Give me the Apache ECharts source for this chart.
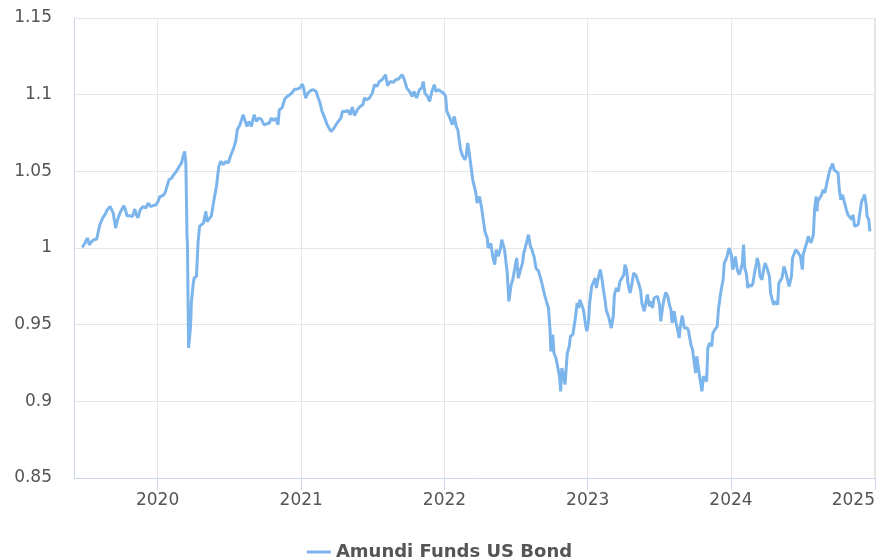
<!DOCTYPE html>
<html>
<head>
<meta charset="utf-8">
<script src="https://cdn.jsdelivr.net/npm/echarts@6/dist/echarts.min.js"></script>
<style>
html,body{margin:0;padding:0;background:#fff;}
#chart{width:879px;height:558px;}
</style>
</head>
<body>
<div id="chart"></div>
<script>
const seriesName = 'Amundi Funds US Bond';
const yTicks = [0.85, 0.9, 0.95, 1, 1.05, 1.1, 1.15];

const dates2019 = ['2019-06-23','2019-06-30','2019-07-06','2019-07-11','2019-07-17','2019-07-23','2019-07-30','2019-08-03','2019-08-07','2019-08-14','2019-08-20','2019-08-26','2019-09-02','2019-09-06','2019-09-10','2019-09-16','2019-09-21','2019-09-27','2019-10-01','2019-10-07','2019-10-11','2019-10-15','2019-10-22','2019-10-29','2019-11-04','2019-11-08','2019-11-12','2019-11-18','2019-11-25','2019-12-02','2019-12-08','2019-12-14','2019-12-21','2019-12-28'];
const values2019 = [1.0004,1.0033,1.0065,1.002,1.0043,1.0054,1.0059,1.0108,1.0152,1.0196,1.0217,1.025,1.0271,1.0276,1.0228,1.013,1.0185,1.0228,1.0239,1.0276,1.025,1.021,1.021,1.0206,1.0254,1.0217,1.0196,1.025,1.0271,1.0261,1.0293,1.0271,1.0276,1.0282];

const dates2020 = ['2020-01-02','2020-01-07','2020-01-14','2020-01-20','2020-01-25','2020-01-30','2020-02-06','2020-02-11','2020-02-18','2020-02-25','2020-03-02','2020-03-06','2020-03-10','2020-03-13','2020-03-16','2020-03-17','2020-03-20','2020-03-25','2020-03-27','2020-03-31','2020-04-03','2020-04-09','2020-04-13','2020-04-17','2020-04-22','2020-04-27','2020-05-03','2020-05-06','2020-05-11','2020-05-17','2020-05-23','2020-05-30','2020-06-05','2020-06-10','2020-06-16','2020-06-23','2020-06-29','2020-07-06','2020-07-12','2020-07-18','2020-07-22','2020-07-29','2020-08-06','2020-08-10','2020-08-16','2020-08-21','2020-08-27','2020-09-03','2020-09-09','2020-09-15','2020-09-21','2020-09-28','2020-10-05','2020-10-12','2020-10-16','2020-10-23','2020-10-28','2020-11-03','2020-11-06','2020-11-13','2020-11-20','2020-11-26','2020-12-03','2020-12-09','2020-12-15','2020-12-21','2020-12-28'];
const values2020 = [1.0304,1.0336,1.0341,1.0359,1.0402,1.0445,1.0456,1.0478,1.05,1.0532,1.0554,1.0597,1.063,1.0554,1.0076,1.0033,0.9348,0.9489,0.9641,0.975,0.9804,0.9815,1.0033,1.0141,1.0152,1.0163,1.0239,1.0173,1.0163,1.021,1.0304,1.0402,1.0532,1.0565,1.0543,1.0565,1.0554,1.0608,1.0645,1.0695,1.0771,1.0804,1.0869,1.0836,1.0793,1.0825,1.0793,1.0869,1.0825,1.0847,1.0841,1.0804,1.081,1.0815,1.0847,1.0832,1.0847,1.0804,1.0902,1.0913,1.0971,1.0988,1.1,1.1014,1.1036,1.1036,1.1043];

const dates2021 = ['2021-01-04','2021-01-07','2021-01-12','2021-01-18','2021-01-25','2021-02-01','2021-02-08','2021-02-12','2021-02-18','2021-02-23','2021-03-02','2021-03-08','2021-03-12','2021-03-18','2021-03-24','2021-03-29','2021-04-05','2021-04-12','2021-04-16','2021-04-23','2021-04-30','2021-05-06','2021-05-11','2021-05-17','2021-05-24','2021-05-31','2021-06-07','2021-06-11','2021-06-17','2021-06-24','2021-07-01','2021-07-07','2021-07-13','2021-07-19','2021-07-26','2021-08-04','2021-08-09','2021-08-16','2021-08-23','2021-08-30','2021-09-06','2021-09-10','2021-09-15','2021-09-21','2021-09-27','2021-10-04','2021-10-11','2021-10-15','2021-10-22','2021-10-29','2021-11-04','2021-11-08','2021-11-12','2021-11-19','2021-11-24','2021-11-30','2021-12-06','2021-12-10','2021-12-17','2021-12-23','2021-12-30'];
const values2021 = [1.1069,1.1043,1.0978,1.101,1.1027,1.1032,1.1021,1.0988,1.0945,1.0891,1.0847,1.0804,1.0793,1.076,1.0776,1.0797,1.0825,1.0847,1.0891,1.0891,1.0897,1.0869,1.0919,1.0864,1.0902,1.0923,1.0934,1.0978,1.0967,1.0978,1.101,1.1065,1.1054,1.1086,1.1097,1.113,1.1058,1.1086,1.108,1.1097,1.1102,1.1108,1.113,1.1097,1.1043,1.1021,1.0988,1.1021,1.0978,1.1032,1.1043,1.1086,1.101,1.0988,1.0956,1.1021,1.1065,1.1021,1.1032,1.1021,1.101];

const dates2022 = ['2022-01-04','2022-01-07','2022-01-13','2022-01-18','2022-01-21','2022-01-26','2022-01-31','2022-02-04','2022-02-08','2022-02-11','2022-02-17','2022-02-22','2022-02-25','2022-03-01','2022-03-04','2022-03-09','2022-03-14','2022-03-18','2022-03-22','2022-03-25','2022-03-31','2022-04-05','2022-04-11','2022-04-14','2022-04-20','2022-04-22','2022-04-29','2022-05-04','2022-05-09','2022-05-13','2022-05-18','2022-05-23','2022-05-27','2022-06-03','2022-06-07','2022-06-10','2022-06-14','2022-06-20','2022-06-24','2022-06-30','2022-07-04','2022-07-08','2022-07-15','2022-07-19','2022-07-22','2022-07-29','2022-08-03','2022-08-08','2022-08-12','2022-08-18','2022-08-22','2022-08-29','2022-09-05','2022-09-09','2022-09-13','2022-09-19','2022-09-23','2022-09-27','2022-09-29','2022-10-04','2022-10-07','2022-10-12','2022-10-17','2022-10-21','2022-10-24','2022-10-27','2022-11-01','2022-11-04','2022-11-10','2022-11-15','2022-11-18','2022-11-24','2022-11-30','2022-12-05','2022-12-09','2022-12-12','2022-12-16','2022-12-21','2022-12-27','2022-12-30'];
const values2022 = [1.0988,1.0891,1.0858,1.0847,1.0804,1.0858,1.0793,1.0771,1.0695,1.0641,1.0597,1.0576,1.0597,1.0684,1.0641,1.0543,1.0445,1.0402,1.0359,1.0293,1.0336,1.0271,1.0163,1.0108,1.0065,1.0,1.003,0.9945,0.9891,0.9989,0.9945,0.9989,1.0054,0.9989,0.9978,0.9837,0.9652,0.9761,0.9793,0.988,0.9935,0.9804,0.987,0.9902,0.9967,1.0033,1.0087,1.001,0.9989,0.9935,0.987,0.9848,0.9782,0.9739,0.9696,0.9641,0.9609,0.9467,0.9326,0.9435,0.9315,0.9283,0.9217,0.9163,0.9065,0.9217,0.9163,0.9109,0.9315,0.9358,0.9424,0.9435,0.9533,0.9641,0.9609,0.9663,0.9674,0.9598,0.9489,0.9457];

const dates2023 = ['2023-01-03','2023-01-06','2023-01-11','2023-01-16','2023-01-20','2023-01-23','2023-01-27','2023-02-02','2023-02-06','2023-02-10','2023-02-14','2023-02-17','2023-02-23','2023-02-27','2023-03-02','2023-03-07','2023-03-10','2023-03-15','2023-03-20','2023-03-24','2023-03-29','2023-04-03','2023-04-06','2023-04-10','2023-04-14','2023-04-19','2023-04-24','2023-04-28','2023-05-04','2023-05-08','2023-05-12','2023-05-16','2023-05-19','2023-05-25','2023-05-30','2023-06-02','2023-06-07','2023-06-12','2023-06-15','2023-06-19','2023-06-23','2023-06-28','2023-07-03','2023-07-06','2023-07-10','2023-07-14','2023-07-19','2023-07-24','2023-07-28','2023-08-01','2023-08-04','2023-08-09','2023-08-14','2023-08-18','2023-08-22','2023-08-25','2023-08-30','2023-09-04','2023-09-08','2023-09-12','2023-09-15','2023-09-21','2023-09-25','2023-09-29','2023-10-03','2023-10-06','2023-10-11','2023-10-13','2023-10-19','2023-10-23','2023-10-27','2023-10-31','2023-11-03','2023-11-08','2023-11-13','2023-11-16','2023-11-21','2023-11-27','2023-11-30','2023-12-04','2023-12-07','2023-12-12','2023-12-15','2023-12-19','2023-12-22','2023-12-27'];
const values2023 = [0.9522,0.9641,0.975,0.9761,0.9804,0.9739,0.9793,0.9859,0.9804,0.9728,0.9663,0.9598,0.9554,0.9543,0.9478,0.9554,0.9696,0.9739,0.9717,0.9782,0.9771,0.9826,0.9891,0.9859,0.9761,0.9706,0.9771,0.9837,0.982,0.979,0.976,0.9717,0.9641,0.9587,0.9576,0.9696,0.962,0.9652,0.9609,0.9674,0.9663,0.9685,0.963,0.9522,0.9598,0.9663,0.9711,0.9685,0.963,0.9598,0.9511,0.9587,0.9511,0.9467,0.9413,0.9489,0.9559,0.9478,0.9489,0.9478,0.9457,0.937,0.9337,0.9261,0.9185,0.9293,0.9304,0.9163,0.9065,0.9163,0.9174,0.913,0.9348,0.9381,0.9359,0.9446,0.9467,0.9489,0.9598,0.9674,0.9728,0.9793,0.9902,0.9924,0.9945,1.0];

const dates2024 = ['2024-01-02','2024-01-05','2024-01-09','2024-01-12','2024-01-17','2024-01-22','2024-01-26','2024-01-30','2024-02-02','2024-02-05','2024-02-09','2024-02-13','2024-02-16','2024-02-22','2024-02-26','2024-03-01','2024-03-06','2024-03-08','2024-03-12','2024-03-15','2024-03-20','2024-03-25','2024-03-28','2024-04-03','2024-04-08','2024-04-11','2024-04-15','2024-04-19','2024-04-24','2024-04-29','2024-05-02','2024-05-07','2024-05-10','2024-05-15','2024-05-20','2024-05-24','2024-05-28','2024-06-03','2024-06-06','2024-06-10','2024-06-14','2024-06-18','2024-06-21','2024-06-26','2024-07-01','2024-07-03','2024-07-08','2024-07-12','2024-07-16','2024-07-19','2024-07-23','2024-07-29','2024-08-01','2024-08-05','2024-08-07','2024-08-09','2024-08-14','2024-08-19','2024-08-23','2024-08-27','2024-08-30','2024-09-05','2024-09-09','2024-09-13','2024-09-16','2024-09-20','2024-09-24','2024-09-30','2024-10-03','2024-10-07','2024-10-11','2024-10-16','2024-10-21','2024-10-25','2024-10-30','2024-11-04','2024-11-07','2024-11-11','2024-11-15','2024-11-20','2024-11-25','2024-11-29','2024-12-03','2024-12-06','2024-12-10','2024-12-13','2024-12-17','2024-12-20'];
const values2024 = [0.9956,0.9859,0.9891,0.9945,0.9859,0.9826,0.9859,0.9902,1.0022,0.987,0.9837,0.9739,0.9761,0.975,0.9771,0.9837,0.9902,0.9935,0.9891,0.9815,0.9793,0.987,0.9902,0.9859,0.9815,0.9706,0.9663,0.963,0.9652,0.963,0.9771,0.9782,0.9804,0.988,0.9837,0.9826,0.975,0.9815,0.9935,0.9945,0.9989,0.9989,0.9967,0.9945,0.9859,0.9956,1.0,1.0033,1.0076,1.0054,1.0033,1.0087,1.025,1.0337,1.0239,1.0304,1.0315,1.0348,1.038,1.0359,1.0348,1.0467,1.051,1.0532,1.055,1.051,1.05,1.0489,1.038,1.0315,1.0348,1.0348,1.025,1.0217,1.0206,1.0185,1.0217,1.0141,1.0152,1.0152,1.0239,1.0304,1.0326,1.0348,1.0293,1.0206,1.0185,1.0108];

const allDates = [].concat(dates2019, dates2020, dates2021, dates2022, dates2023, dates2024);
const allValues = [].concat(values2019, values2020, values2021, values2022, values2023, values2024);
const seriesData = allDates.map((d, i) => [d, allValues[i]]);

const FONT = 'DejaVu Sans';
const chart = echarts.init(document.getElementById('chart'), null, {renderer: 'canvas'});
chart.setOption({
  backgroundColor: '#ffffff',
  animation: false,
  grid: {left: 74, right: 4, top: 18, bottom: 80, containLabel: false},
  legend: {
    top: 538,
    left: 'center',
    data: [seriesName],
    icon: 'rect',
    itemWidth: 24,
    itemHeight: 3,
    textStyle: {fontFamily: FONT, fontSize: 18, fontWeight: 'bold', color: '#555555'}
  },
  xAxis: {
    type: 'time',
    min: '2019-06-02',
    max: '2025-01-02',
    minInterval: 365 * 24 * 3600 * 1000,
    maxInterval: 366 * 24 * 3600 * 1000,
    axisLine: {show: true, lineStyle: {color: '#ccd6eb', width: 1}},
    axisTick: {show: true, length: 12, lineStyle: {color: '#ccd6eb'}},
    splitLine: {show: true, lineStyle: {color: '#e6e6e6', width: 1}},
    axisLabel: {
      formatter: '{yyyy}',
      fontFamily: FONT, fontSize: 17, color: '#555555', margin: 14,
      alignMaxLabel: 'right',
      showMinLabel: false,
      showMaxLabel: true
    }
  },
  yAxis: {
    type: 'value',
    min: yTicks[0],
    max: yTicks[yTicks.length - 1],
    interval: 0.05,
    axisLine: {show: true, lineStyle: {color: '#ccd6eb', width: 1}},
    axisTick: {show: false},
    splitLine: {show: true, lineStyle: {color: '#e6e6e6', width: 1}},
    axisLabel: {fontFamily: FONT, fontSize: 17, color: '#555555', margin: 22}
  },
  series: [{
    name: seriesName,
    type: 'line',
    data: seriesData,
    showSymbol: false,
    symbol: 'none',
    lineStyle: {color: '#7cb5ec', width: 3},
    itemStyle: {color: '#7cb5ec'},
    emphasis: {disabled: true}
  }]
});
</script>
</body>
</html>
